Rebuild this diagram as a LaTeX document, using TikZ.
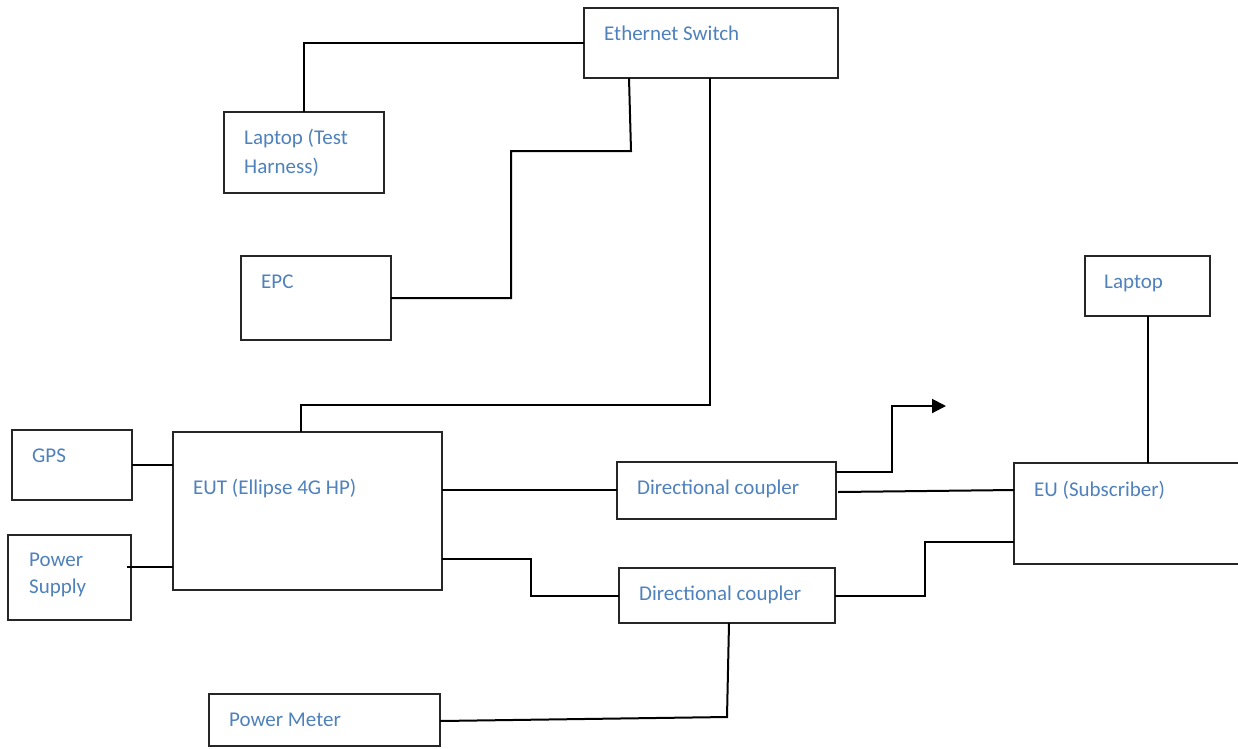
\documentclass[tikz,border=0pt]{standalone}
\usepackage{fontspec}
\setmainfont{Carlito}
\usetikzlibrary{arrows.meta}
\definecolor{txtblue}{HTML}{4F81BD}
\begin{document}
\begin{tikzpicture}[x=1pt,y=-1pt,
  box/.style={draw=black!85,line width=1.4pt,inner sep=0pt,outer sep=0pt,anchor=north west},
  lbl/.style={text=txtblue,font=\fontsize{21}{29}\selectfont,anchor=base west,inner sep=0pt},
  wire/.style={draw=black,line width=2pt}]
\useasboundingbox (0,0) rectangle (1238,748);
\fill[white] (0,0) rectangle (1238,748);
% boxes
\node[box,minimum width=254pt,minimum height=70pt] (sw) at (584,8) {};
\node[box,minimum width=160pt,minimum height=81pt] (lt) at (224,112) {};
\node[box,minimum width=150pt,minimum height=84pt] (epc) at (241,256) {};
\node[box,minimum width=125pt,minimum height=60pt] (lap) at (1085,256) {};
\node[box,minimum width=120pt,minimum height=70pt] (gps) at (12,430) {};
\node[box,minimum width=269pt,minimum height=158pt] (eut) at (173,432) {};
\node[box,minimum width=123pt,minimum height=85pt] (ps) at (8,535) {};
\node[box,minimum width=219pt,minimum height=57pt] (dc1) at (617,462) {};
\node[box,minimum width=216pt,minimum height=55pt] (dc2) at (619,568) {};
\node[box,minimum width=240pt,minimum height=101pt] (eu) at (1014,463) {};
\node[box,minimum width=231pt,minimum height=52pt] (pm) at (209,694) {};
% labels
\node[lbl] (tsw) at (604,40) {Ethernet Switch};
\node[lbl] (tlt1) at (244,144) {Laptop (Test};
\node[lbl] (tlt2) at (244,173) {Harness)};
\node[lbl] (tepc) at (261,288) {EPC};
\node[lbl] (tlap) at (1104,288) {Laptop};
\node[lbl] (tgps) at (32,462) {GPS};
\node[lbl] (teut) at (193,494) {EUT (Ellipse 4G HP)};
\node[lbl] (tps1) at (29,566) {Power};
\node[lbl] (tps2) at (29,593) {Supply};
\node[lbl] (tdc1) at (637,494) {Directional coupler};
\node[lbl] (tdc2) at (639,600) {Directional coupler};
\node[lbl] (teu) at (1034,496) {EU (Subscriber)};
\node[lbl] (tpm) at (229,726) {Power Meter};
% connectors
\coordinate (arr) at (946,406);
\draw[wire] (sw.west) -| (lt.north);
\draw[wire] ([xshift=45pt]sw.south west) -- (631,151) -- (511,151) |- (epc.east);
\draw[wire] ([xshift=126pt]sw.south west) |- (301,405) -- ([xshift=128pt]eut.north west);
\draw[wire] ([yshift=-35pt]gps.north east) -- ([yshift=-33pt]eut.north west);
\draw[wire] (127,567) -- ([yshift=23pt]eut.south west);
\draw[wire] ([yshift=-58pt]eut.north east) -- ([yshift=-28pt]dc1.north west);
\draw[wire] ([yshift=31pt]eut.south east) -- (531,559) |- (dc2.west);
\draw[wire,-{Triangle[length=14pt,width=14pt]}] ([yshift=-10pt]dc1.north east) -- (892,472) |- (arr);
\draw[wire] (838,492) -- ([yshift=-27pt]eu.north west);
\draw[wire] ([yshift=-28pt]dc2.north east) -- (925,596) |- ([yshift=-79pt]eu.north west);
\draw[wire] ([xshift=63pt]lap.south west) -- ([xshift=134pt]eu.north west);
\draw[wire] ([xshift=110pt]dc2.south west) -- (727,717) -- ([yshift=-27pt]pm.north east);
\end{tikzpicture}
\end{document}
